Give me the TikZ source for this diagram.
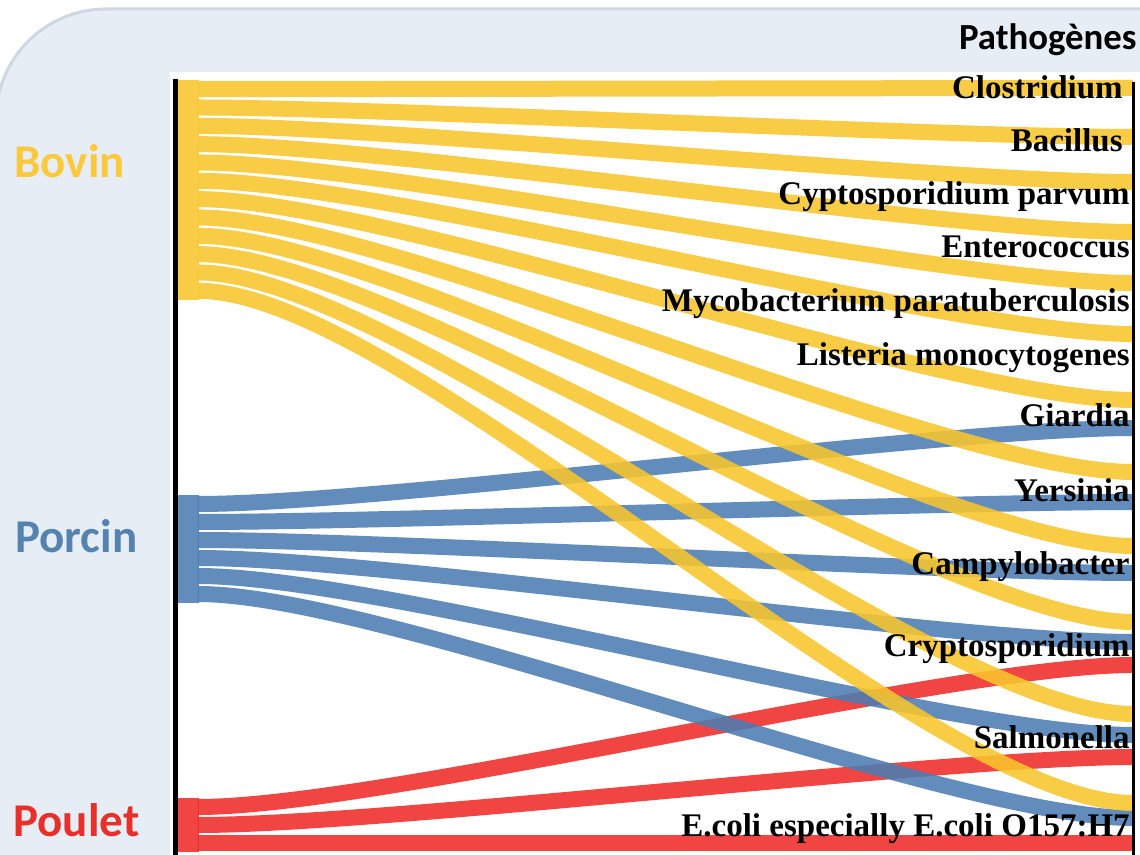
\documentclass[tikz,border=0pt]{standalone}
\usepackage{fontspec}
\setmainfont{Liberation Serif}
\newfontfamily\labelfont{Carlito}
\usepackage{tikz}

\definecolor{panel}{RGB}{231,237,245}
\definecolor{panelline}{RGB}{206,215,226}
\definecolor{bovin}{RGB}{248,198,44}
\definecolor{porcin}{RGB}{76,125,178}
\definecolor{poulet}{RGB}{238,44,40}
\definecolor{bovintxt}{RGB}{252,200,60}
\definecolor{porcintxt}{RGB}{84,131,175}
\definecolor{poulettxt}{RGB}{232,47,42}

\tikzset{
  band/.style={line width=8pt, opacity=0.88, out=0, in=180, looseness=0.5},
  animal/.style={anchor=base west, inner sep=0pt, font=\labelfont\bfseries\fontsize{23.5}{26}\selectfont},
  pathogen/.style={anchor=base east, inner sep=0pt, font=\bfseries\fontsize{16.5}{18}\selectfont}
}

\begin{document}
\begin{tikzpicture}[x=0.5pt, y=-0.5pt]
  \useasboundingbox (0,0) rectangle (1140,855);
  % Panel
  \fill[white] (0,0) rectangle (1140,855);
  \draw[panelline, fill=panel, line width=1.5pt, rounded corners=55pt] (-4,9) rectangle (1400,1100);
  \fill[white] (170,72) rectangle (1140,855);
  % Band ends
  \foreach \i in {1,...,12} \coordinate (bovL\i) at (198,{80+18.33*(\i-0.5)});
  \foreach \i in {1,...,6} \coordinate (porL\i) at (198,{495+18*(\i-0.5)});
  \foreach \i in {1,2,3} \coordinate (pouL\i) at (198,{798+18*(\i-0.5)});
  \foreach \i/\y in {1/88,2/137,3/182,4/232,5/283,6/334,7/400,8/472,9/546,10/622,11/714,12/803}
    \coordinate (bovR\i) at (1133,\y);
  \foreach \i/\y in {1/428,2/502,3/573,4/642,5/735,6/818}
    \coordinate (porR\i) at (1133,\y);
  \foreach \i/\y in {1/665,2/757,3/843}
    \coordinate (pouR\i) at (1133,\y);
  % Bands, joined at the left side
  \fill[poulet, opacity=0.88] (175,798) rectangle (199,852);
  \foreach \i in {1,2,3} \draw[band, poulet] (pouL\i) to (pouR\i);
  \fill[porcin, opacity=0.88] (175,495) rectangle (199,603);
  \foreach \i in {1,...,6} \draw[band, porcin] (porL\i) to (porR\i);
  \fill[bovin, opacity=0.88] (175,80) rectangle (199,300);
  \foreach \i in {1,...,12} \draw[band, bovin] (bovL\i) to (bovR\i);
  % Axes
  \draw[line width=2.5pt] (175,79) -- (175,855);
  \draw[line width=1.5pt] (1133,82) -- (1133,855);
  % Labels
  \node[animal, text=bovintxt] (bovin) at (14,178) {Bovin};
  \node[animal, text=porcintxt] (porcin) at (15,552) {Porcin};
  \node[animal, text=poulettxt] (poulet) at (13,836) {Poulet};
  \node[anchor=base east, inner sep=0pt, font=\labelfont\bfseries\fontsize{18.4}{20}\selectfont] (titre) at (1137,50) {Pathogènes};
  \foreach \i/\x/\y/\txt in {1/1123/99/Clostridium, 2/1123/152/Bacillus, 3/1130/205/Cyptosporidium parvum,
      4/1130/258/Enterococcus, 5/1130/312/Mycobacterium paratuberculosis, 6/1130/366/Listeria monocytogenes,
      7/1130/427/Giardia, 8/1130/502/Yersinia, 9/1130/574/Campylobacter, 10/1130/656/Cryptosporidium,
      11/1130/748/Salmonella, 12/1130/836/E.coli especially E.coli O157:H7}
    \node[pathogen] (path\i) at (\x,\y) {\txt};
\end{tikzpicture}
\end{document}
